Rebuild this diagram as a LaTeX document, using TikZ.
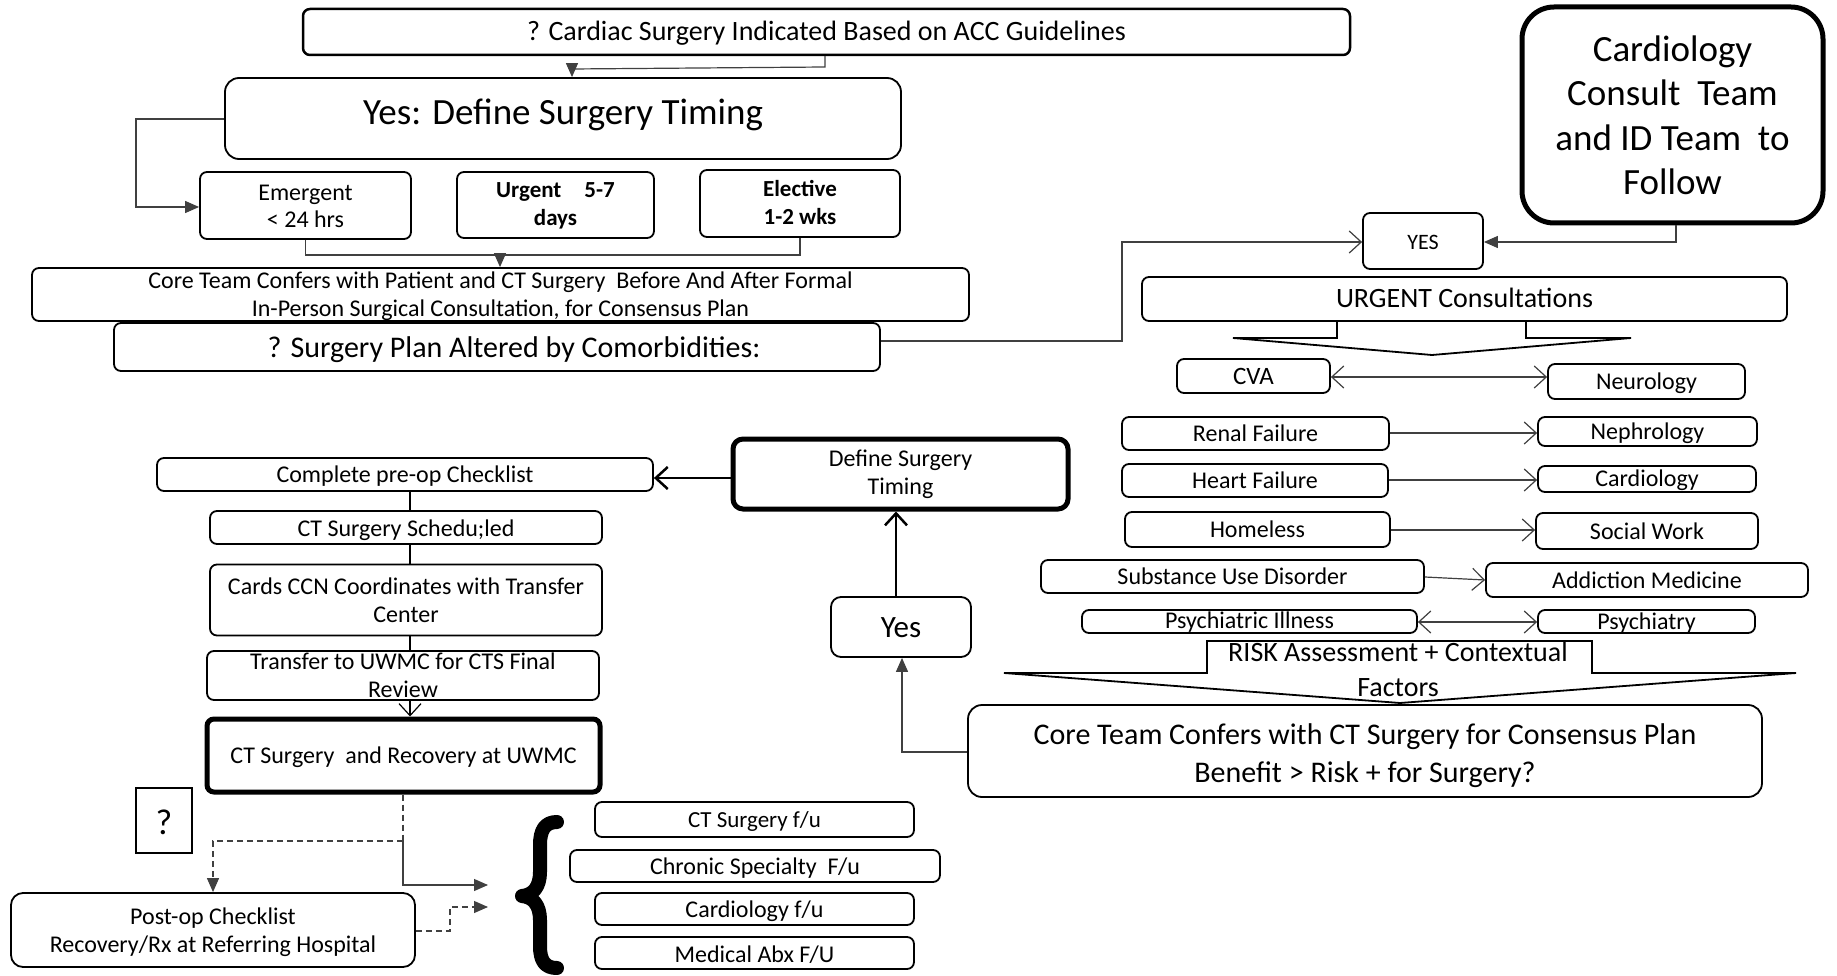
\documentclass[tikz,border=0pt]{standalone}
\usepackage{fontspec}
\setmainfont{Carlito}
\usetikzlibrary{arrows.meta}

% text block whose last baseline sits #1 below the node centre
\newcommand{\tb}[2]{\raisebox{-#1}[0pt][0pt]{\begin{tabular}[b]{@{}c@{}}#2\end{tabular}}}

\tikzset{
  box/.style={draw=black, rounded corners=7pt, line width=1.8pt, fill=white,
              inner sep=0pt, text=black},
  heavybox/.style={box, line width=5pt},
  fs/.style 2 args={font=\fontsize{#1}{#2}\selectfont},
  fsb/.style 2 args={font=\fontsize{#1}{#2}\selectfont\bfseries},
  conn/.style={draw=black!75, line width=1.2pt},
  dashconn/.style={conn, dash pattern=on 6pt off 4pt},
  fa/.style={-{Triangle[length=14pt,width=12pt]}},
  oa/.style={-{Straight Barb[length=12pt,width=22pt]}},
  oaa/.style={{Straight Barb[length=12pt,width=22pt]}-{Straight Barb[length=12pt,width=22pt]}},
  blockarrow/.style={draw=black, line width=1.8pt, fill=white, line join=miter}
}

\begin{document}
\begin{tikzpicture}[x=1pt,y=-1pt]
\useasboundingbox (0,0) rectangle (1837,976);
\fill[white] (0,0) rectangle (1837,976);

% ---------- top part: indication and timing ----------
\node[box, line width=2.5pt, fs={28}{32}, minimum width=1047pt, minimum height=46pt]
  (ind) at (826.5,32) {\tb{9pt}{? Cardiac Surgery Indicated Based on ACC Guidelines}};
\node[box, rounded corners=14pt, fs={37}{42}, minimum width=676pt, minimum height=81pt]
  (yestiming) at (563,118.5) {\tb{6.5pt}{Yes: Define Surgery Timing}};

\node[box, fs={24}{27}, minimum width=211pt, minimum height=67pt]
  (emerg) at (305.5,205.5) {\tb{22pt}{Emergent\\< 24 hrs}};
\node[box, fsb={23}{28}, minimum width=197pt, minimum height=66pt]
  (urg) at (555.5,205) {\tb{21pt}{Urgent\quad 5-7\\days}};
\node[box, fsb={23}{28}, minimum width=200pt, minimum height=67pt]
  (elect) at (800,203.5) {\tb{21pt}{Elective\\1-2 wks}};

\node[box, fs={24}{28}, minimum width=937pt, minimum height=53pt]
  (core1) at (500.5,294.5) {\tb{22pt}{Core Team Confers with Patient and CT Surgery\ \ Before And After Formal\\In-Person Surgical Consultation, for Consensus Plan}};
\node[box, fs={30}{34}, minimum width=766pt, minimum height=48pt]
  (altered) at (497,347) {\tb{11pt}{\hspace*{34pt}? Surgery Plan Altered by Comorbidities:}};

\coordinate (m1) at (500,255);
\draw[conn] (ind.south -| 825,0) -- (825,67) -- (572,69);
\draw[conn, fa] (572,69) -- (yestiming.north -| 572,0);
\draw[conn, fa] (yestiming.west |- 0,119) -- (136,119) -- (136,207) -- (emerg.west |- 0,207);
\draw[conn] (emerg.south) |- (m1);
\draw[conn] (elect.south) |- (m1);
\draw[conn, fa] (m1) -- (core1.north -| m1);

% ---------- right part: urgent consultations ----------
\node[box, line width=5pt, rounded corners=32pt, fs={37}{44.5}, minimum width=301pt, minimum height=216pt]
  (cardteam) at (1672.5,115) {\tb{80pt}{Cardiology\\Consult\ \ Team\\and ID Team\ \ to\\Follow}};
\node[box, fs={22}{26}, minimum width=120pt, minimum height=56pt]
  (yesR) at (1423,241) {\tb{9pt}{YES}};
\draw[conn, oa] (altered.east |- 0,341) -- (1122,341) -- (1122,242) -- (yesR.west |- 0,242);
\draw[conn, fa] (cardteam.south -| 1676,0) -- (1676,242) -- (yesR.east |- 0,242);

\draw[blockarrow] (1337,321) -- (1337,338) -- (1233,338) -- (1432,355) -- (1631,338) -- (1526,338) -- (1526,321);
\node[box, fs={28}{32}, minimum width=645pt, minimum height=44pt]
  (urgent) at (1464.5,299) {\tb{8.5pt}{URGENT Consultations}};

\node[box, fs={25}{28}, minimum width=153pt, minimum height=34pt] (cva) at (1253.5,376) {\tb{8.5pt}{CVA}};
\node[box, fs={24}{28}, minimum width=197pt, minimum height=35pt] (neuro) at (1646.5,381.5) {\tb{7.7pt}{Neurology}};
\node[box, fs={24}{28}, minimum width=267pt, minimum height=33pt] (renal) at (1255.5,433.5) {\tb{7.5pt}{Renal Failure}};
\node[box, fs={24}{28}, minimum width=219pt, minimum height=29pt] (nephro) at (1647.5,431.5) {\tb{8pt}{Nephrology}};
\node[box, fs={24}{28}, minimum width=266pt, minimum height=33pt] (heart) at (1255,480.5) {\tb{8pt}{Heart Failure}};
\node[box, fs={24}{28}, minimum width=218pt, minimum height=26pt] (cardio) at (1647,479) {\tb{7.5pt}{Cardiology}};
\node[box, fs={24}{28}, minimum width=265pt, minimum height=35pt] (homeless) at (1257.5,529.5) {\tb{8.3pt}{Homeless}};
\node[box, fs={24}{28}, minimum width=222pt, minimum height=36pt] (social) at (1647,531) {\tb{8pt}{Social Work}};
\node[box, fs={24}{28}, minimum width=383pt, minimum height=33pt] (sud) at (1232.5,576.5) {\tb{8.3pt}{Substance Use Disorder}};
\node[box, fs={24}{28}, minimum width=322pt, minimum height=34pt] (addict) at (1647,580) {\tb{8.3pt}{Addiction Medicine}};
\node[box, fs={24}{28}, minimum width=335pt, minimum height=23pt] (psyill) at (1249.5,621.5) {\tb{6.8pt}{Psychiatric Illness}};
\node[box, fs={24}{28}, minimum width=217pt, minimum height=23pt] (psych) at (1646.5,621.5) {\tb{7.5pt}{Psychiatry}};

\draw[conn, oaa] (cva.east |- 0,377) -- (neuro.west |- 0,377);
\draw[conn, oa] (renal.east |- 0,433) -- (nephro.west |- 0,433);
\draw[conn, oa] (heart.east |- 0,480) -- (cardio.west |- 0,480);
\draw[conn, oa] (homeless.east |- 0,530) -- (social.west |- 0,530);
\draw[conn, oa] (sud.east |- 0,577) -- (addict.west |- 0,580);
\draw[conn, oaa] (psyill.east |- 0,622) -- (psych.west |- 0,622);

\draw[blockarrow] (1207,641) -- (1592,641) -- (1592,673) -- (1796,673) -- (1400,703) -- (1004,673) -- (1207,673) -- cycle;
\node[fs={28}{35}, inner sep=0pt, text=black] (risk) at (1398,671)
  {\tb{25.5pt}{RISK Assessment + Contextual\\Factors}};

\node[box, rounded corners=14pt, fs={30}{37.5}, minimum width=794pt, minimum height=92pt]
  (core2) at (1365,751) {\tb{31pt}{Core Team Confers with CT Surgery for Consensus Plan\\Benefit > Risk + for Surgery?}};

% ---------- middle: decision back to timing ----------
\node[box, rounded corners=10pt, fs={31}{36}, minimum width=140pt, minimum height=60pt]
  (yesM) at (901,627) {\tb{10pt}{Yes}};
\node[heavybox, rounded corners=10pt, fs={24}{28}, minimum width=335pt, minimum height=70pt]
  (deftiming) at (900.5,474) {\tb{20.5pt}{Define Surgery\\Timing}};
\draw[conn, fa] (core2.west |- 0,752) -- (902,752) -- (yesM.south -| 902,0);
\draw[black, line width=2.5pt, oa] (yesM.north -| 896,0) -- (deftiming.south -| 896,0);

% ---------- left column: pre-op to surgery ----------
\node[box, fs={24}{28}, minimum width=496pt, minimum height=33pt] (preop) at (405,474.5) {\tb{8.4pt}{Complete pre-op Checklist}};
\node[box, fs={24}{28}, minimum width=392pt, minimum height=33pt] (sched) at (406,527.5) {\tb{9pt}{CT Surgery Schedu;led}};
\node[box, fs={24}{28}, minimum width=392pt, minimum height=71pt] (ccn) at (406,600) {\tb{22pt}{Cards CCN Coordinates with Transfer\\Center}};
\node[box, fs={24}{28}, minimum width=392pt, minimum height=49pt] (transfer) at (403,675.5) {\tb{21.5pt}{Transfer to UWMC for CTS Final\\Review}};
\node[heavybox, fs={24}{28}, minimum width=393pt, minimum height=73pt] (surg) at (403.5,755.5) {\tb{7.5pt}{CT Surgery\ \ and Recovery at UWMC}};

\draw[black, line width=2.5pt, oa] (deftiming.west |- 0,478) -- (preop.east |- 0,478);
\draw[black, line width=1.6pt] (preop.south -| 410,0) -- (sched.north -| 410,0);
\draw[black, line width=1.6pt] (sched.south -| 410,0) -- (ccn.north -| 410,0);
\draw[black, line width=1.6pt] (ccn.south -| 410,0) -- (transfer.north -| 410,0);
\draw[black, line width=1.2pt, oa] (transfer.south -| 410,0) -- (surg.north -| 410,0);

% ---------- bottom: follow-up ----------
\node[draw=black, line width=1.8pt, fill=white, inner sep=0pt, fs={36}{40},
      minimum width=56pt, minimum height=65pt] (qbox) at (164,820.5) {\tb{14pt}{?}};
\node[box, rounded corners=12pt, fs={24}{28}, minimum width=404pt, minimum height=74pt]
  (postop) at (213,930) {\tb{22.5pt}{Post-op Checklist\\Recovery/Rx at Referring Hospital}};

\coordinate (split) at (403,841);
\coordinate (fu1) at (488,885);
\coordinate (fu2) at (488,907);
\draw[dashconn] (surg.south -| 403,0) -- (split);
\draw[conn, fa] (split) -- (403,885) -- (fu1);
\draw[dashconn, fa] (split) -- (213,841) -- (postop.north -| 213,0);
\draw[dashconn, fa] (postop.east |- 0,931) -- (450,931) -- (450,907) -- (fu2);

% grouping brace for the follow-up visits
\draw[line width=14pt, line cap=round, line join=round]
  (557,822) .. controls (545,822) and (540,830) .. (540,845) -- (540,872)
  .. controls (540,887) and (533,895) .. (522,896)
  .. controls (533,897) and (540,905) .. (540,920) -- (540,946)
  .. controls (540,961) and (545,968) .. (557,968);

\node[box, fs={23}{26}, minimum width=319pt, minimum height=35pt] (fuct) at (754.5,819.5) {\tb{7.5pt}{CT Surgery f/u}};
\node[box, fs={24}{26}, minimum width=370pt, minimum height=32pt] (fuchron) at (755,866) {\tb{8pt}{Chronic Specialty\ \ F/u}};
\node[box, fs={24}{26}, minimum width=319pt, minimum height=32pt] (fucard) at (754.5,909) {\tb{8.5pt}{Cardiology f/u}};
\node[box, fs={24}{26}, minimum width=319pt, minimum height=32pt] (fuabx) at (754.5,953) {\tb{9pt}{Medical Abx F/U}};
\end{tikzpicture}
\end{document}
